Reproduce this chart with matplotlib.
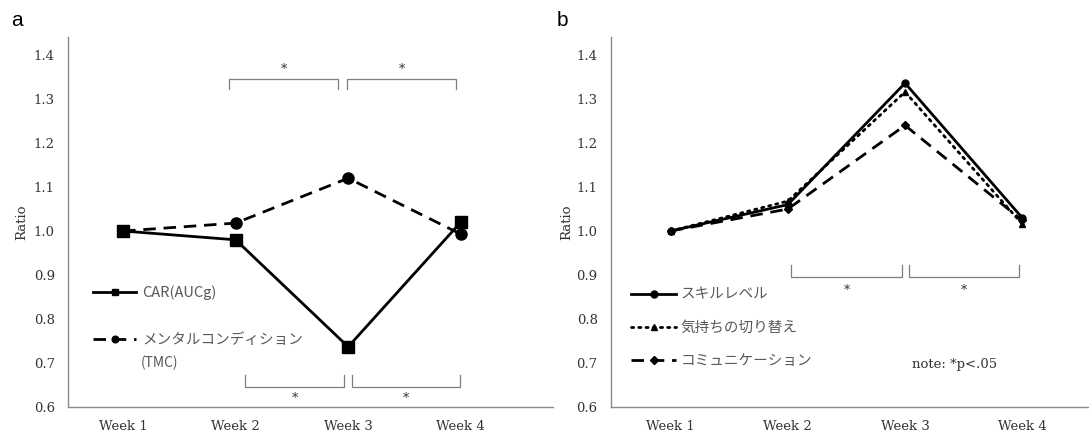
import matplotlib
matplotlib.use("Agg")
import matplotlib.pyplot as plt

weeks = ["Week 1", "Week 2", "Week 3", "Week 4"]
yticks = [0.6, 0.7, 0.8, 0.9, 1.0, 1.1, 1.2, 1.3, 1.4]

# panel a
car = [1.00, 0.98, 0.737, 1.02]
tmc = [1.00, 1.018, 1.12, 0.993]
# panel b
skill = [1.00, 1.06, 1.336, 1.03]
kimochi = [1.00, 1.068, 1.316, 1.016]
comm = [1.00, 1.05, 1.24, 1.024]

# significance brackets: (x_start, x_end, y_bar, y_leg, star_y)
brackets_a = [(0.94, 1.91, 1.345, 1.323, 1.368), (1.99, 2.96, 1.345, 1.323, 1.368),
              (1.08, 1.965, 0.645, 0.673, 0.620), (2.035, 2.99, 0.645, 0.673, 0.620)]
brackets_b = [(1.03, 1.97, 0.895, 0.923, 0.866), (2.03, 2.97, 0.895, 0.923, 0.866)]

SERIF = "DejaVu Serif"
JP = ["Noto Sans CJK JP", "DejaVu Sans"]
AXC = "#8c8c8c"
TXT = "#333333"
FS = 9.5

fig = plt.figure(figsize=(10.89, 4.34), dpi=100)
ax_a = fig.add_axes([0.0624, 0.062, 0.4454, 0.853])
ax_b = fig.add_axes([0.561, 0.062, 0.439, 0.853])

def style(ax, xlim, ylab_x):
    ax.set_ylim(0.6, 1.441)
    ax.set_xlim(*xlim)
    ax.set_xticks(range(len(weeks)))
    ax.set_xticklabels(weeks, fontfamily=SERIF, fontsize=FS, color=TXT)
    ax.set_yticks(yticks)
    ax.set_yticklabels([f"{v:.1f}" for v in yticks], fontfamily=SERIF, fontsize=FS, color=TXT)
    ax.tick_params(length=0, axis="y", pad=9.5)
    ax.tick_params(length=0, axis="x", pad=9.5)
    for s in ["top", "right"]:
        ax.spines[s].set_visible(False)
    for s in ["left", "bottom"]:
        ax.spines[s].set_color(AXC)
        ax.spines[s].set_linewidth(1.0)
    ax.set_ylabel("Ratio", fontfamily=SERIF, fontsize=FS, color=TXT)
    ax.yaxis.set_label_coords(ylab_x, 0.5)

def draw_brackets(ax, brs):
    for x0, x1, yb, yl, ys in brs:
        ax.plot([x0, x0, x1, x1], [yl, yb, yb, yl], color="#7f7f7f", lw=0.9)
        ax.text((x0 + x1) / 2, ys, "*", ha="center", va="center",
                fontfamily=SERIF, fontsize=9, color=TXT)

x = list(range(len(weeks)))

# ---- panel a
style(ax_a, (-0.49, 3.82), -0.082)
la1, = ax_a.plot(x, car, color="black", lw=2.0, marker="s", ms=8, label="CAR(AUCg)")
la2, = ax_a.plot(x, tmc, color="black", lw=2.0, ls=(0, (4.5, 2.8)), marker="o", ms=8,
                 label="メンタルコンディション")
draw_brackets(ax_a, brackets_a)
ax_a.legend(handles=[la1, la2], loc="upper left", bbox_to_anchor=(0.024, 0.365),
            frameon=False, handlelength=3.0, handletextpad=0.4, labelspacing=2.25,
            prop={"family": JP, "size": 10.5}, labelcolor="#595959", markerscale=0.6)
ax_a.text(0.15, 0.12, "(TMC)", transform=ax_a.transAxes, fontfamily=JP, fontsize=10,
          color="#595959", va="center", ha="left")
fig.text(0.010, 0.952, "a", fontfamily="Liberation Sans", fontsize=15, color="black",
         va="center")

# ---- panel b
style(ax_b, (-0.51, 3.57), -0.078)
lb1, = ax_b.plot(x, skill, color="black", lw=2.0, marker="o", ms=5, label="スキルレベル")
lb2, = ax_b.plot(x, kimochi, color="black", lw=2.0, ls=(0, (0.8, 1.8)), marker="^", ms=5,
                 dash_capstyle="round", label="気持ちの切り替え")
lb3, = ax_b.plot(x, comm, color="black", lw=2.0, ls=(0, (4.5, 2.8)), marker="D", ms=4.5,
                 label="コミュニケーション")
draw_brackets(ax_b, brackets_b)
ax_b.legend(handles=[lb1, lb2, lb3], loc="upper left", bbox_to_anchor=(0.015, 0.358),
            frameon=False, handlelength=3.1, handletextpad=0.3, labelspacing=1.33,
            prop={"family": JP, "size": 10.5}, labelcolor="#595959")
ax_b.text(0.63, 0.116, "note: *p<.05", transform=ax_b.transAxes, fontfamily=SERIF,
          fontsize=FS, color=TXT, va="center", ha="left")
fig.text(0.511, 0.952, "b", fontfamily="Liberation Sans", fontsize=15, color="black",
         va="center")

fig.savefig("out.png", dpi=100)
